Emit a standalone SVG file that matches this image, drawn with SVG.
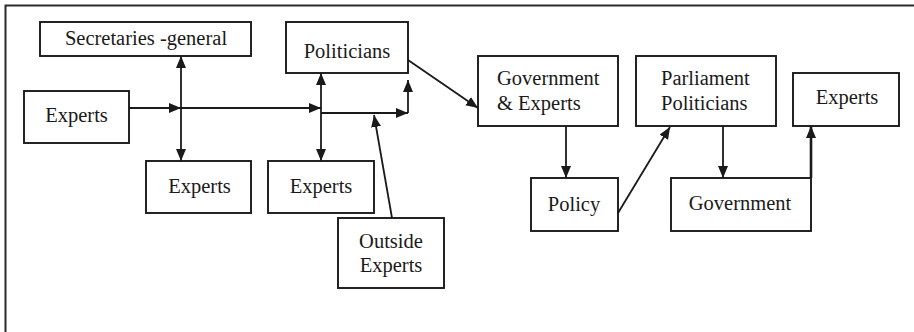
<svg xmlns="http://www.w3.org/2000/svg" width="914" height="332" viewBox="0 0 914 332">
  <defs>
    <marker id="ah" markerUnits="userSpaceOnUse" markerWidth="13" markerHeight="11" refX="12" refY="5" orient="auto-start-reverse">
      <path d="M0,0 L12,5 L0,10 z" fill="#1a1a1a"/>
    </marker>
    <style>
      .box{fill:#fff;stroke:#1a1a1a;stroke-width:1.9}
      .t{font-size:20.5px;fill:#1a1a1a}
      .c{text-anchor:middle}
      .ln{fill:none;stroke:#1a1a1a;stroke-width:1.8}
      .end{marker-end:url(#ah)}
      .both{marker-start:url(#ah);marker-end:url(#ah)}
    </style>
  </defs>
  <rect width="914" height="332" fill="#fff"/>
  <path d="M5.5,332 V5.5 H914" fill="none" stroke="#2a2a2a" stroke-width="2"/>

  <g id="connectors">
    <line class="ln both" x1="181" y1="56" x2="181" y2="161"/>
    <line class="ln end" x1="129" y1="108" x2="181" y2="108"/>
    <line class="ln end" x1="181" y1="108" x2="321" y2="108"/>
    <line class="ln both" x1="321" y1="73" x2="321" y2="161"/>
    <line class="ln end" x1="321" y1="113" x2="408" y2="113"/>
    <line class="ln end" x1="408" y1="113" x2="408" y2="80"/>
    <line class="ln end" x1="392" y1="218" x2="374" y2="115"/>
    <line class="ln end" x1="408" y1="60" x2="478" y2="108"/>
    <line class="ln end" x1="566" y1="126" x2="566" y2="178"/>
    <line class="ln end" x1="618" y1="213" x2="670" y2="127"/>
    <line class="ln end" x1="723" y1="126" x2="723" y2="178"/>
    <line class="ln end" x1="811" y1="178" x2="811" y2="126" style="stroke-width:2.6"/>
  </g>

  <g font-family="Liberation Serif, Times New Roman, serif">
  <g id="secretaries-general">
    <rect class="box" x="40" y="22" width="211" height="34"/>
    <text class="t c" x="146" y="45">Secretaries -general</text>
  </g>
  <g id="politicians">
    <rect class="box" x="286" y="22" width="122" height="51"/>
    <text class="t c" x="347" y="58">Politicians</text>
  </g>
  <g id="experts-left">
    <rect class="box" x="24" y="91" width="105" height="52"/>
    <text class="t c" x="76.5" y="122">Experts</text>
  </g>
  <g id="experts-1">
    <rect class="box" x="146" y="161" width="105" height="52"/>
    <text class="t c" x="199.5" y="193">Experts</text>
  </g>
  <g id="experts-2">
    <rect class="box" x="268" y="161" width="106" height="52"/>
    <text class="t c" x="321" y="193">Experts</text>
  </g>
  <g id="outside-experts">
    <rect class="box" x="338" y="218" width="106" height="70"/>
    <text class="t c" x="391" y="248">Outside</text>
    <text class="t c" x="391" y="272">Experts</text>
  </g>
  <g id="government-experts">
    <rect class="box" x="478" y="56" width="140" height="70"/>
    <text class="t" x="497" y="85">Government</text>
    <text class="t" x="497" y="110">&amp; Experts</text>
  </g>
  <g id="parliament-politicians">
    <rect class="box" x="636" y="56" width="140" height="70"/>
    <text class="t" x="661" y="85">Parliament</text>
    <text class="t" x="661" y="110">Politicians</text>
  </g>
  <g id="experts-right">
    <rect class="box" x="793" y="73" width="106" height="53"/>
    <text class="t c" x="847" y="104">Experts</text>
  </g>
  <g id="policy">
    <rect class="box" x="531" y="178" width="87" height="53"/>
    <text class="t c" x="574" y="211">Policy</text>
  </g>
  <g id="government">
    <rect class="box" x="671" y="178" width="140" height="53"/>
    <text class="t c" x="740" y="210">Government</text>
  </g>
  </g>
</svg>
